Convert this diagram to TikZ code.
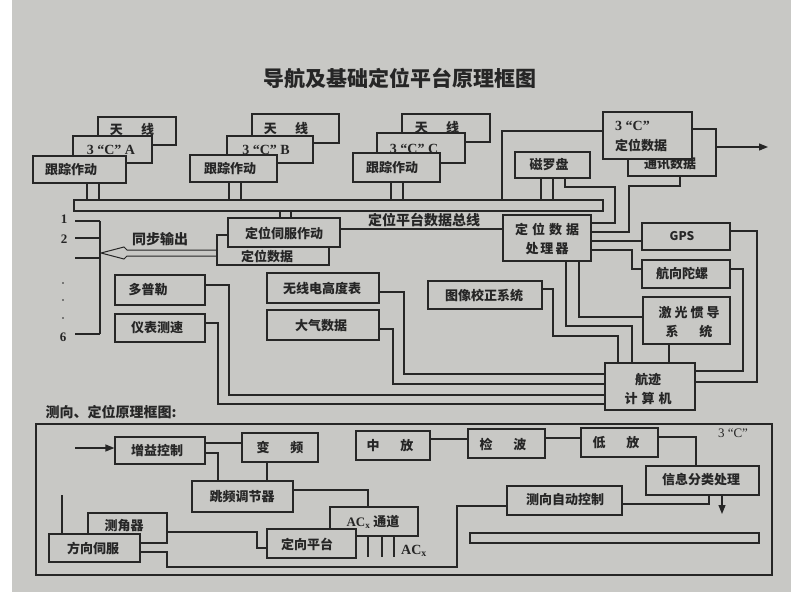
\documentclass[tikz,border=0pt]{standalone}
\usepackage{fontspec}
\setmainfont{Noto Sans CJK SC}
\newfontfamily\latinserif{Liberation Serif}
\usetikzlibrary{fit,arrows.meta}
\definecolor{paper}{RGB}{200,200,197}
\definecolor{ink}{RGB}{38,38,38}
\begin{document}
\begin{tikzpicture}[x=1pt,y=-1pt,
  bx/.style={draw=ink, fill=paper, line width=1.2pt, inner sep=0pt},
  lbl/.style={font=\fontsize{13}{15}\selectfont\bfseries, text=ink, inner sep=0pt, align=center},
  qlbl/.style={font=\fontsize{14}{16}\selectfont\latinserif\bfseries, text=ink, inner sep=0pt},
  ln/.style={draw=ink, line width=1.2pt},
  tip/.style={-{Triangle[length=9pt,width=7pt]}}]
\fill[white] (0,0) rectangle (791,602);
\fill[paper] (12,0) rectangle (791,592);
\useasboundingbox (0,0) rectangle (791,602);

% title
\node[font=\fontsize{21}{24}\selectfont\bfseries, text=ink, inner sep=0pt] (title) at (400,78) {导航及基础定位平台原理框图};

% ---------- group A ----------
\node[bx, fit={(98,117) (176,145)}] (txA) {};
\node[lbl] (txAt) at (132,130) {天\hspace{1.4em}线};
\node[bx, fit={(73,136) (152,163)}] (cA) {};
\node[qlbl] (cAt) at (111,150) {3 “C” A};
\node[bx, fit={(33,156) (126,183)}] (gzA) {};
\node[lbl] (gzAt) at (71,170) {跟踪作动};
% ---------- group B ----------
\node[bx, fit={(252,114) (339,143)}] (txB) {};
\node[lbl] (txBt) at (286,129) {天\hspace{1.4em}线};
\node[bx, fit={(227,136) (313,163)}] (cB) {};
\node[qlbl] (cBt) at (266,150) {3 “C” B};
\node[bx, fit={(190,155) (277,182)}] (gzB) {};
\node[lbl] (gzBt) at (230,169) {跟踪作动};
% ---------- group C ----------
\node[bx, fit={(402,114) (490,142)}] (txC) {};
\node[lbl] (txCt) at (437,128) {天\hspace{1.4em}线};
\node[bx, fit={(377,133) (465,163)}] (cC) {};
\node[qlbl] (cCt) at (414,149) {3 “C” C};
\node[bx, fit={(353,153) (440,182)}] (gzC) {};
\node[lbl] (gzCt) at (392,168) {跟踪作动};

% bus
\node[bx, fit={(74,200) (603,211)}] (bus) {};
\node[lbl, font=\fontsize{14}{16}\selectfont\bfseries] (busT) at (424,220) {定位平台数据总线};
\foreach \n/\a/\b in {gzA/87/99, gzB/229/241, gzC/391/403}{
  \draw[ln] (\n.south -| \a,0) -- (bus.north -| \a,0);
  \draw[ln] (\n.south -| \b,0) -- (bus.north -| \b,0);
}

% right top
\node[bx, fit={(628,129) (716,176)}] (txsj) {};
\node[lbl] (txsjt) at (670,164) {通讯数据};
\node[bx, fit={(603,112) (692,159)}] (c3d) {};
\node[qlbl, anchor=west] (c3dt1) at (615,126) {3 “C”};
\node[lbl, anchor=west] (c3dt2) at (615,145) {定位数据};
\coordinate (outR) at (768,147);
\draw[ln, tip] (txsj.east |- 0,147) -- (outR);
\draw[ln] (c3d.west |- 0,131) -| (bus.north -| 502,0);

\node[bx, fit={(515,152) (590,178)}] (clp) {};
\node[lbl] (clpt) at (549,165) {磁罗盘};
\draw[ln] (clp.south -| 541,0) -- (bus.north -| 541,0);
\draw[ln] (clp.south -| 553,0) -- (bus.north -| 553,0);

% processor
\node[bx, fit={(503,215) (591,261)}] (proc) {};
\node[lbl] (proct) at (547,238.5) {定\hspace{4pt}位\hspace{4pt}数\hspace{4pt}据\\[4pt]处\hspace{2pt}理\hspace{2pt}器};
\draw[ln] (clp.south -| 565,0) |- (615,187) |- (proc.east |- 0,223);
\draw[ln] (txsj.south -| 680,0) |- (629,186) |- (proc.east |- 0,232);

% servo
\node[bx, fit={(217,235) (329,265)}] (dwsj) {};
\node[bx, fit={(228,218) (340,247)}] (dwsf) {};
\node[lbl] (dwsft) at (284,233) {定位伺服作动};
\node[lbl] (dwsjt) at (267,256) {定位数据};
\draw[ln] (dwsf.north -| 280,0) -- (bus.south -| 280,0);
\draw[ln] (dwsf.north -| 291,0) -- (bus.south -| 291,0);
\draw[ln] (dwsf.east |- 0,229) -- (proc.west |- 0,229);

% left bar
\coordinate (barT) at (100,221);
\coordinate (barB) at (100,334);
\coordinate (l1) at (75,221);
\coordinate (l2) at (75,238);
\coordinate (l3) at (75,258);
\coordinate (l6) at (75,334);
\draw[ln] (barT) -- (barB);
\foreach \c in {l1,l2,l3,l6} \draw[ln] (\c) -- (barT |- \c);
\node[qlbl, font=\fontsize{13}{15}\selectfont\latinserif\bfseries] (n1) at (64,219) {1};
\node[qlbl, font=\fontsize{13}{15}\selectfont\latinserif\bfseries] (n2) at (64,239) {2};
\node[qlbl, font=\fontsize{13}{15}\selectfont\latinserif\bfseries] (n6) at (63,337) {6};
\foreach \y in {283,300,318} \fill[ink] (63,\y) circle (0.9pt);
% sync output arrow (hollow double line)
\draw[ln, line width=1pt] (dwsj.west |- 0,250) -- (127,250) -- (124,247) -- (101,253) -- (124,259) -- (127,256) -- (dwsj.west |- 0,256);
\node[lbl, font=\fontsize{14}{16}\selectfont\bfseries] (tbsc) at (160,239) {同步输出};

% sensors left
\node[bx, fit={(115,275) (205,305)}] (dpl) {};
\node[lbl] (dplt) at (148,290) {多普勒};
\node[bx, fit={(115,314) (205,342)}] (ybcs) {};
\node[lbl] (ybcst) at (157,328) {仪表测速};
\node[bx, fit={(267,273) (379,303)}] (wxd) {};
\node[lbl] (wxdt) at (322,289) {无线电高度表};
\node[bx, fit={(267,310) (379,340)}] (dqsj) {};
\node[lbl] (dqsjt) at (321,326) {大气数据};
\node[bx, fit={(428,281) (542,309)}] (txjz) {};
\node[lbl] (txjzt) at (484,296) {图像校正系统};

% right sensors
\node[bx, fit={(642,223) (730,250)}] (gps) {};
\node[lbl, font=\fontsize{12}{14}\selectfont\bfseries] (gpst) at (682,236) {GPS};
\node[bx, fit={(642,260) (730,288)}] (hxtl) {};
\node[lbl] (hxtlt) at (682,274) {航向陀螺};
\node[bx, fit={(643,297) (730,344)}] (jggd) {};
\node[lbl] (jggdt) at (689,322) {激\hspace{3pt}光\hspace{3pt}惯\hspace{3pt}导\\[4pt]系\hspace{1.6em}统};
\node[bx, fit={(605,363) (695,410)}] (hjjs) {};
\node[lbl] (hjjst) at (648,389) {航迹\\[4pt]计\hspace{4pt}算\hspace{4pt}机};

\draw[ln] (proc.east |- 0,241) -- (gps.west |- 0,241);
\draw[ln] (proc.east |- 0,250) -| (632,269) -- (hxtl.west |- 0,269);
\draw[ln] (gps.east |- 0,231) -| (757,382) -- (hjjs.east |- 0,382);
\draw[ln] (hxtl.east |- 0,269) -| (743,371) -- (hjjs.east |- 0,371);
\draw[ln] (jggd.south -| 669,0) -- (hjjs.north -| 669,0);
\draw[ln] (proc.south -| 566,0) |- (632,326) -- (hjjs.north -| 632,0);
\draw[ln] (proc.south -| 579,0) |- (jggd.west |- 0,317);
\draw[ln] (txjz.east |- 0,289) -| (553,336) -| (hjjs.north -| 618,0);
\draw[ln] (wxd.east |- 0,292) -| (404,374) -- (hjjs.west |- 0,374);
\draw[ln] (dqsj.east |- 0,329) -| (393,384) -- (hjjs.west |- 0,384);
\draw[ln] (dpl.east |- 0,285) -| (229,395) -- (hjjs.west |- 0,395);
\draw[ln] (ybcs.east |- 0,323) -| (218,404) -- (hjjs.west |- 0,404);

% ================= lower diagram =================
\node[lbl, font=\fontsize{14}{16}\selectfont\bfseries] (sub) at (111,412) {测向、定位原理框图:};
\node[draw=ink, line width=1.2pt, inner sep=0pt, fit={(36,424) (772,575)}] (frame) {};
\node[qlbl, font=\fontsize{13}{15}\selectfont\latinserif] (c3) at (733,433) {3 “C”};

\node[bx, fit={(115,437) (205,464)}] (zyk) {};
\node[lbl] (zykt) at (157,451) {增益控制};
\node[bx, fit={(242,433) (318,462)}] (bp) {};
\node[lbl] (bpt) at (280,448) {变\hspace{1.6em}频};
\node[bx, fit={(192,481) (293,512)}] (tp) {};
\node[lbl] (tpt) at (242,497) {跳频调节器};
\node[bx, fit={(356,431) (430,460)}] (zf) {};
\node[lbl] (zft) at (390,446) {中\hspace{1.6em}放};
\node[bx, fit={(468,429) (545,458)}] (jb) {};
\node[lbl] (jbt) at (503,444) {检\hspace{1.6em}波};
\node[bx, fit={(581,428) (658,457)}] (df) {};
\node[lbl] (dft) at (616,443) {低\hspace{1.6em}放};
\node[bx, fit={(646,466) (759,495)}] (xx) {};
\node[lbl] (xxt) at (701,480) {信息分类处理};
\node[bx, fit={(507,486) (622,515)}] (cxzd) {};
\node[lbl] (cxzdt) at (565,500) {测向自动控制};
\node[bx, fit={(470,533) (759,543)}] (bar) {};

\node[bx, fit={(330,507) (418,536)}] (acx) {};
\node[lbl] (acxt) at (373,522) {{\latinserif AC\textsubscript{x}} 通道};
\node[bx, fit={(267,529) (356,558)}] (dxpt) {};
\node[lbl] (dxptt) at (307,544) {定向平台};
\coordinate (a1) at (368,557);
\coordinate (a2) at (382,557);
\coordinate (a3) at (394,557);
\foreach \c in {a1,a2,a3} \draw[ln] (acx.south -| \c) -- (\c);
\node[qlbl] (acxl) at (414,551) {AC\textsubscript{x}};

\node[bx, fit={(88,513) (167,543)}] (cjq) {};
\node[lbl] (cjqt) at (124,526) {测角器};
\node[bx, fit={(49,534) (140,562)}] (fxsf) {};
\node[lbl] (fxsft) at (93,548) {方向伺服};

\coordinate (inL) at (75,448);
\draw[ln, tip] (inL) -- (zyk.west |- inL);
\draw[ln] (zyk.east |- 0,443) -- (bp.west |- 0,443);
\draw[ln] (zyk.east |- 0,453) -| (tp.north -| 218,0);
\draw[ln] (bp.south -| 267,0) -- (tp.north -| 267,0);
\draw[ln] (tp.east |- 0,490) -| (acx.north -| 368,0);
\draw[ln] (zf.east |- 0,439) -- (jb.west |- 0,439);
\draw[ln] (jb.east |- 0,438) -- (df.west |- 0,438);
\draw[ln] (df.east |- 0,437) -| (xx.north -| 696,0);
\draw[ln] (xx.south -| 709,0) |- (cxzd.east |- 0,504);
\coordinate (outD) at (722,514);
\draw[ln, tip] (xx.south -| outD) -- (outD);
\draw[ln] (cjq.east |- 0,532) -| (257,548) -- (dxpt.west |- 0,548);
\draw[ln] (fxsf.east |- 0,552) -| (167,567) -| (457,506) -- (cxzd.west |- 0,506);
\coordinate (fxTop) at (62,495);
\draw[ln] (fxsf.north -| fxTop) -- (fxTop);
\end{tikzpicture}
\end{document}
